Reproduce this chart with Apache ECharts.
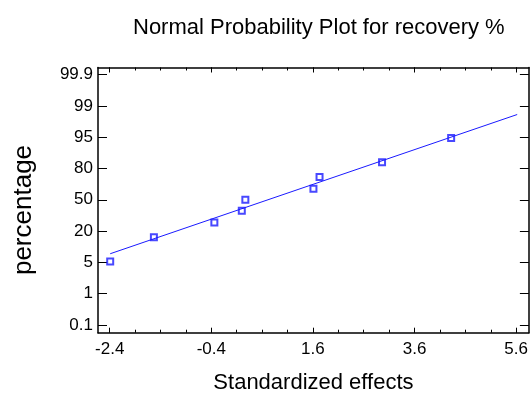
<!DOCTYPE html>
<html>
<head>
<meta charset="utf-8">
<script src="https://cdn.jsdelivr.net/npm/echarts@6/dist/echarts.min.js"></script>
<style>
  html, body { margin: 0; padding: 0; background: #fff; }
  #main { width: 531px; height: 400px; }
</style>
</head>
<body>
<div id="main"></div>
<script>
// standardized effects and their plotting percentages
var effects = [-2.39, -1.53, -0.34, 0.20, 0.27, 1.61, 1.73, 2.96, 4.32];
var percents = [5.6, 16.7, 27.8, 38.9, 50, 61.1, 72.2, 83.3, 94.4];

// fitted reference line (two ends)
var fitEffects = [-2.39, 5.62];
var fitPercents = [8.2, 98.6];

// tick labels
var xMajorTicks = [-2.4, -0.4, 1.6, 3.6, 5.6];
var yTickLabels = ['0.1', '1', '5', '20', '50', '80', '95', '99', '99.9'];

var FONT = '"Liberation Sans", Arial, sans-serif';
var Y_STEP = 0.807;   // the y labels sit evenly spaced on the z scale

// inverse normal cdf (Acklam)
function probit(p) {
    var a = [-39.69683028665376, 220.9460984245205, -275.9285104469687, 138.3577518672690, -30.66479806614716, 2.506628277459239];
    var b = [-54.47609879822406, 161.5858368580409, -155.6989798598866, 66.80131188771972, -13.28068155288572];
    var c = [-0.007784894002430293, -0.3223964580411365, -2.400758277161838, -2.549732539343734, 4.374664141464968, 2.938163982698783];
    var d = [0.007784695709041462, 0.3224671290700398, 2.445134137142996, 3.754408661907416];
    var pl = 0.02425, q, r;
    if (p < pl) {
        q = Math.sqrt(-2 * Math.log(p));
        return (((((c[0]*q+c[1])*q+c[2])*q+c[3])*q+c[4])*q+c[5]) / ((((d[0]*q+d[1])*q+d[2])*q+d[3])*q+1);
    }
    if (p > 1 - pl) {
        q = Math.sqrt(-2 * Math.log(1 - p));
        return -(((((c[0]*q+c[1])*q+c[2])*q+c[3])*q+c[4])*q+c[5]) / ((((d[0]*q+d[1])*q+d[2])*q+d[3])*q+1);
    }
    q = p - 0.5; r = q * q;
    return (((((a[0]*r+a[1])*r+a[2])*r+a[3])*r+a[4])*r+a[5])*q / (((((b[0]*r+b[1])*r+b[2])*r+b[3])*r+b[4])*r+1);
}

var points = effects.map(function (x, i) { return [x, probit(percents[i] / 100)]; });
var fitLine = fitEffects.map(function (x, i) { return [x, probit(fitPercents[i] / 100)]; });

var yTicks = yTickLabels.map(function (s, i) { return (i - 4) * Y_STEP; });
var xMinorTicks = [];
for (var v = -2.4; v <= 5.61; v += 0.5) xMinorTicks.push(Math.round(v * 10) / 10);

function yLabel(val) {
    return yTickLabels[Math.round(val / Y_STEP) + 4];
}

var frame = { show: true, onZero: false, lineStyle: { color: '#000', width: 1.5 } };

function xAx(pos, ticks, len, showLine, showLabel) {
    return {
        type: 'value', position: pos, min: -2.63, max: 5.85,
        axisLine: showLine ? frame : { show: false, onZero: false },
        axisTick: { show: true, inside: true, length: len, customValues: ticks, lineStyle: { color: '#000', width: 1 } },
        axisLabel: { show: showLabel, customValues: ticks, margin: 8, color: '#000', fontFamily: FONT, fontSize: 17,
            formatter: function (v) { return v.toFixed(1); } },
        splitLine: { show: false }
    };
}

var option = {
    animation: false,
    backgroundColor: '#fff',
    title: {
        text: 'Normal Probability Plot for recovery %',
        left: 128, top: 12,
        textStyle: { fontFamily: FONT, fontSize: 22, fontWeight: 'normal', color: '#000' }
    },
    graphic: [{
        type: 'text', x: 24, y: 210, rotation: Math.PI / 2,
        style: { text: 'percentage', font: '26px ' + FONT, fill: '#000', textAlign: 'center', textVerticalAlign: 'middle' }
    }],
    grid: { left: 98, right: 1, top: 67.5, bottom: 67.3 },
    xAxis: [
        Object.assign(xAx('bottom', xMajorTicks, 5, true, true), {
            name: 'Standardized effects', nameLocation: 'middle', nameGap: 39,
            nameTextStyle: { fontFamily: FONT, fontSize: 22, color: '#000' }
        }),
        xAx('bottom', xMinorTicks, 3, false, false),
        xAx('top', xMajorTicks, 5, true, false),
        xAx('top', xMinorTicks, 3, false, false)
    ],
    yAxis: [
        {
            type: 'value', position: 'left', min: -3.427, max: 3.409,
            axisLine: frame,
            axisTick: { show: true, inside: true, length: 9, customValues: yTicks, lineStyle: { color: '#000' } },
            axisLabel: { customValues: yTicks, formatter: yLabel, margin: 5, color: '#000', fontFamily: FONT, fontSize: 17 },
            splitLine: { show: false }
        },
        {
            type: 'value', position: 'right', min: -3.427, max: 3.409,
            axisLine: frame,
            axisTick: { show: true, inside: true, length: 9, customValues: yTicks, lineStyle: { color: '#000' } },
            axisLabel: { show: false },
            splitLine: { show: false }
        }
    ],
    series: [
        {
            type: 'line', data: fitLine, symbol: 'none',
            lineStyle: { color: '#1a1aff', width: 1 }, silent: true
        },
        {
            type: 'scatter', data: points, symbol: 'emptyRect', symbolSize: 6,
            itemStyle: { color: '#1a1aff', borderColor: '#1a1aff', borderWidth: 1 }
        }
    ]
};

var myChart = echarts.init(document.getElementById('main'));
myChart.setOption(option);
</script>
</body>
</html>
